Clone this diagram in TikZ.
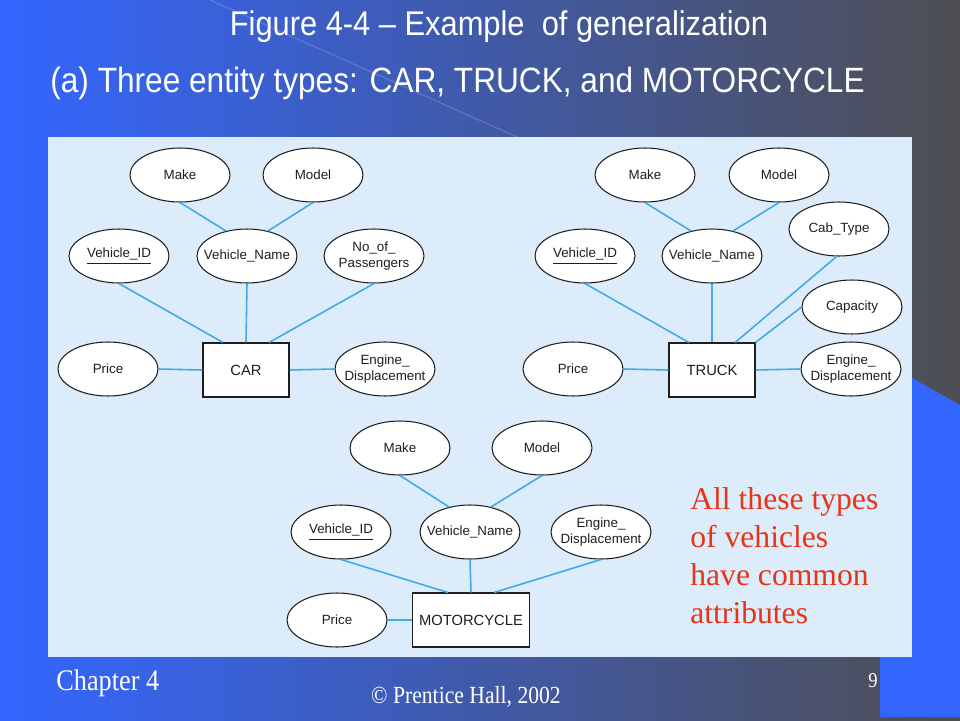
\documentclass[tikz,border=0pt]{standalone}
\usepackage{fontspec}
\setmainfont{Liberation Serif}
\setsansfont{Liberation Sans}
\newfontfamily\slidefont[FakeStretch=0.9]{Liberation Sans}
\newfontfamily\footfont[FakeStretch=0.88]{Liberation Serif}
\usetikzlibrary{shapes.geometric,positioning}

\definecolor{slideblue}{RGB}{51,102,255}
\definecolor{slidegray}{RGB}{78,78,82}
\definecolor{panelblue}{RGB}{220,236,250}
\definecolor{linkblue}{RGB}{66,170,228}
\definecolor{notered}{RGB}{232,52,22}
\definecolor{inkgray}{RGB}{30,30,30}

\begin{document}
\begin{tikzpicture}[x=0.02cm,y=-0.02cm]
		\useasboundingbox (0,0) rectangle (960,720);
		% slide background
		\shade[left color=slideblue, middle color=slideblue!60!slidegray, right color=slidegray] (0,0) rectangle (960,720);
		\draw[white, opacity=0.15, line width=0.8pt] (210,0) -- (517,137);
		\fill[slideblue] (912,378) -- (960,405) -- (960,717) -- (880,717) -- (880,657) -- (912,657) -- cycle;
		\fill[panelblue] (48,137) rectangle (912,657);

		\node[anchor=base, text=white, font=\slidefont\fontsize{19.5}{22}\selectfont] (title) at (499,35) {Figure 4-4 \textendash\ Example\ \ of generalization};
		\node[anchor=base west, inner sep=0pt, text=white, font=\slidefont\fontsize{20}{24}\selectfont] (subtitle) at (50,92) {(a) Three entity types: CAR, TRUCK, and MOTORCYCLE};

		\begin{scope}[every node/.style={ellipse,draw=inkgray,fill=white,line width=0.6pt,minimum width=2cm,minimum height=1.08cm,inner xsep=-5pt,inner ysep=0pt,align=center,text=inkgray,font=\sffamily\fontsize{7.6}{9.4}\selectfont}]
			% CAR
			\node (cmake) at (180,175) {Make};
			\node (cmodel) at (313,175) {Model};
			\node (cid) at (119,256) {\underline{Vehicle\_ID}};
			\node (cname) at (247,256) {Vehicle\_Name};
			\node (cpass) at (374,256) {No\_of\_\\Passengers};
			\node (cprice) at (108,369) {Price};
			\node (ceng) at (385,369) {Engine\_\\Displacement};
			% TRUCK
			\node (tmake) at (645,175) {Make};
			\node (tmodel) at (779,175) {Model};
			\node (tcab) at (839,229) {Cab\_Type};
			\node (tid) at (585,256) {\underline{Vehicle\_ID}};
			\node (tname) at (712,256) {Vehicle\_Name};
			\node (tcap) at (852,307) {Capacity};
			\node (tprice) at (573,369) {Price};
			\node (teng) at (851,369) {Engine\_\\Displacement};
			% MOTORCYCLE
			\node (mmake) at (400,448) {Make};
			\node (mmodel) at (542,448) {Model};
			\node (mid) at (341,532) {\underline{Vehicle\_ID}};
			\node (mname) at (470,532) {Vehicle\_Name};
			\node (meng) at (601,532) {Engine\_\\Displacement};
			\node (mprice) at (337,620) {Price};
		\end{scope}

		\begin{scope}[every node/.style={rectangle,draw=inkgray,fill=white,line width=0.6pt,minimum width=1.72cm,minimum height=1.08cm,inner sep=0pt,text=inkgray,font=\sffamily\fontsize{8.4}{10}\selectfont}]
			\node (car) at (246,370) {CAR};
			\node (truck) at (712,370) {TRUCK};
			\node[minimum width=2.34cm] (moto) at (471,620) {MOTORCYCLE};
		\end{scope}

		\begin{scope}[linkblue, line width=0.9pt]
			\draw (cmake.south) -- (cname.130);
			\draw (cmodel.south) -- (cname.50);
			\draw (cid.south) -- (car.130);
			\draw (cname.south) -- (car.north);
			\draw (cpass.south) -- (car.50);
			\draw (cprice.east) -- (car.west);
			\draw (car.east) -- (ceng.west);

			\draw (tmake.south) -- (tname.130);
			\draw (tmodel.south) -- (tname.50);
			\draw (tid.south) -- (truck.130);
			\draw (tname.south) -- (truck.north);
			\draw (tcab.265) -- (truck.50);
			\draw (tcap.west) -- (truck.north east);
			\draw (tprice.east) -- (truck.west);
			\draw (truck.east) -- (teng.west);

			\draw (mmake.south) -- (mname.130);
			\draw (mmodel.south) -- (mname.50);
			\draw (mid.south) -- (moto.130);
			\draw (mname.south) -- (moto.north);
			\draw (meng.south) -- (moto.50);
			\draw (mprice.east) -- (moto.west);
		\end{scope}

		\node[anchor=north west, align=left, inner sep=0pt, text=notered, font=\fontsize{18}{21.6}\selectfont] (note) at (690,487) {All these types\\of vehicles\\have common\\attributes};

		\node[anchor=base west, inner sep=0pt, text=white, font=\footfont\fontsize{17}{20}\selectfont] (chapter) at (56,690) {Chapter 4};
		\node[anchor=base, inner sep=0pt, text=white, font=\footfont\fontsize{14}{16}\selectfont] (copyright) at (466,703) {\textcopyright\ Prentice Hall, 2002};
		\node[anchor=base, inner sep=0pt, text=white, font=\footfont\fontsize{12}{14}\selectfont] (pageno) at (873,687) {9};
	\end{tikzpicture}
\end{document}
